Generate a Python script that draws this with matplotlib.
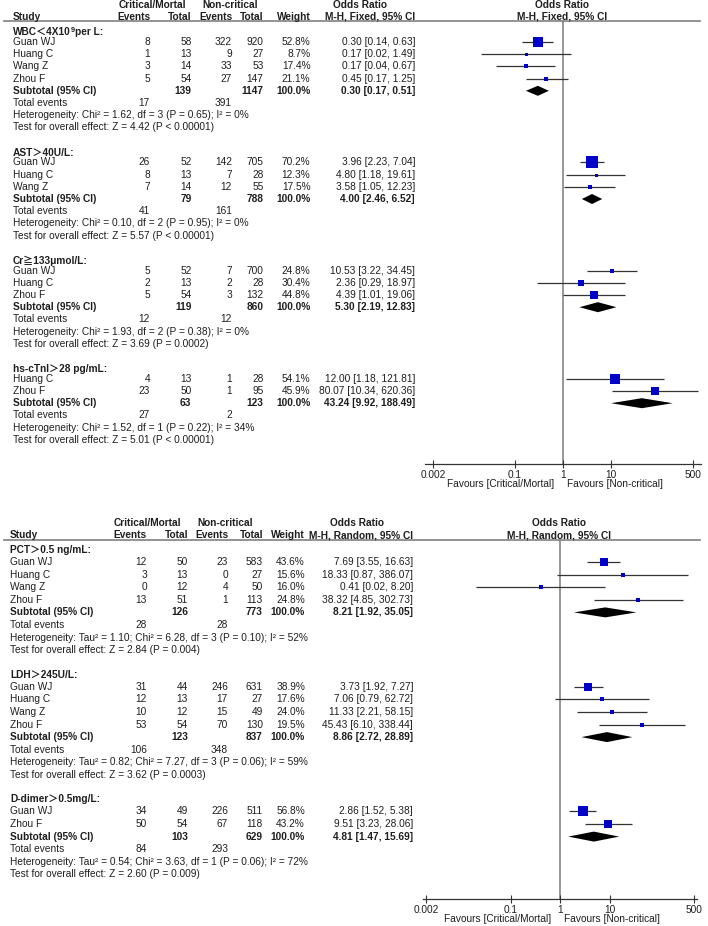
import matplotlib.pyplot as plt
import numpy as np

plt.rcParams['font.family'] = ['Liberation Sans', 'Noto Sans CJK SC', 'DejaVu Sans']
plt.rcParams['font.size'] = 7.25

# ---------------- fixed-effect panel ----------------
wbc_study = ['Guan WJ', 'Huang C', 'Wang Z', 'Zhou F']
wbc_crit = [(8, 58), (1, 13), (3, 14), (5, 54)]
wbc_noncrit = [(322, 920), (9, 27), (33, 53), (27, 147)]
wbc_weight = [52.8, 8.7, 17.4, 21.1]
wbc_or = [(0.30, 0.14, 0.63), (0.17, 0.02, 1.49), (0.17, 0.04, 0.67), (0.45, 0.17, 1.25)]
wbc_sub = (139, 1147, 0.30, 0.17, 0.51)
wbc_events = (17, 391)
wbc_het = 'Heterogeneity: Chi² = 1.62, df = 3 (P = 0.65); I² = 0%'
wbc_test = 'Test for overall effect: Z = 4.42 (P < 0.00001)'

ast_study = ['Guan WJ', 'Huang C', 'Wang Z']
ast_crit = [(26, 52), (8, 13), (7, 14)]
ast_noncrit = [(142, 705), (7, 28), (12, 55)]
ast_weight = [70.2, 12.3, 17.5]
ast_or = [(3.96, 2.23, 7.04), (4.80, 1.18, 19.61), (3.58, 1.05, 12.23)]
ast_sub = (79, 788, 4.00, 2.46, 6.52)
ast_events = (41, 161)
ast_het = 'Heterogeneity: Chi² = 0.10, df = 2 (P = 0.95); I² = 0%'
ast_test = 'Test for overall effect: Z = 5.57 (P < 0.00001)'

cr_study = ['Guan WJ', 'Huang C', 'Zhou F']
cr_crit = [(5, 52), (2, 13), (5, 54)]
cr_noncrit = [(7, 700), (2, 28), (3, 132)]
cr_weight = [24.8, 30.4, 44.8]
cr_or = [(10.53, 3.22, 34.45), (2.36, 0.29, 18.97), (4.39, 1.01, 19.06)]
cr_sub = (119, 860, 5.30, 2.19, 12.83)
cr_events = (12, 12)
cr_het = 'Heterogeneity: Chi² = 1.93, df = 2 (P = 0.38); I² = 0%'
cr_test = 'Test for overall effect: Z = 3.69 (P = 0.0002)'

tni_study = ['Huang C', 'Zhou F']
tni_crit = [(4, 13), (23, 50)]
tni_noncrit = [(1, 28), (1, 95)]
tni_weight = [54.1, 45.9]
tni_or = [(12.00, 1.18, 121.81), (80.07, 10.34, 620.36)]
tni_sub = (63, 123, 43.24, 9.92, 188.49)
tni_events = (27, 2)
tni_het = 'Heterogeneity: Chi² = 1.52, df = 1 (P = 0.22); I² = 34%'
tni_test = 'Test for overall effect: Z = 5.01 (P < 0.00001)'

# ---------------- random-effects panel ----------------
pct_study = ['Guan WJ', 'Huang C', 'Wang Z', 'Zhou F']
pct_crit = [(12, 50), (3, 13), (0, 12), (13, 51)]
pct_noncrit = [(23, 583), (0, 27), (4, 50), (1, 113)]
pct_weight = [43.6, 15.6, 16.0, 24.8]
pct_or = [(7.69, 3.55, 16.63), (18.33, 0.87, 386.07), (0.41, 0.02, 8.20), (38.32, 4.85, 302.73)]
pct_sub = (126, 773, 8.21, 1.92, 35.05)
pct_events = (28, 28)
pct_het = 'Heterogeneity: Tau² = 1.10; Chi² = 6.28, df = 3 (P = 0.10); I² = 52%'
pct_test = 'Test for overall effect: Z = 2.84 (P = 0.004)'

ldh_study = ['Guan WJ', 'Huang C', 'Wang Z', 'Zhou F']
ldh_crit = [(31, 44), (12, 13), (10, 12), (53, 54)]
ldh_noncrit = [(246, 631), (17, 27), (15, 49), (70, 130)]
ldh_weight = [38.9, 17.6, 24.0, 19.5]
ldh_or = [(3.73, 1.92, 7.27), (7.06, 0.79, 62.72), (11.33, 2.21, 58.15), (45.43, 6.10, 338.44)]
ldh_sub = (123, 837, 8.86, 2.72, 28.89)
ldh_events = (106, 348)
ldh_het = 'Heterogeneity: Tau² = 0.82; Chi² = 7.27, df = 3 (P = 0.06); I² = 59%'
ldh_test = 'Test for overall effect: Z = 3.62 (P = 0.0003)'

dd_study = ['Guan WJ', 'Zhou F']
dd_crit = [(34, 49), (50, 54)]
dd_noncrit = [(226, 511), (67, 118)]
dd_weight = [56.8, 43.2]
dd_or = [(2.86, 1.52, 5.38), (9.51, 3.23, 28.06)]
dd_sub = (103, 629, 4.81, 1.47, 15.69)
dd_events = (84, 293)
dd_het = 'Heterogeneity: Tau² = 0.54; Chi² = 3.63, df = 1 (P = 0.06); I² = 72%'
dd_test = 'Test for overall effect: Z = 2.60 (P = 0.009)'

ticks = [0.002, 0.1, 1, 10, 500]
tick_labels = ['0.002', '0.1', '1', '10', '500']

# '^' marks a superscript part in a subgroup title
top_sections = [
    ('WBC＜4X10^9^per L:', wbc_study, wbc_crit, wbc_noncrit, wbc_weight, wbc_or, wbc_sub, wbc_events, wbc_het, wbc_test),
    ('AST＞40U/L:', ast_study, ast_crit, ast_noncrit, ast_weight, ast_or, ast_sub, ast_events, ast_het, ast_test),
    ('Cr≧133μmol/L:', cr_study, cr_crit, cr_noncrit, cr_weight, cr_or, cr_sub, cr_events, cr_het, cr_test),
    ('hs-cTnI＞28 pg/mL:', tni_study, tni_crit, tni_noncrit, tni_weight, tni_or, tni_sub, tni_events, tni_het, tni_test),
]
bottom_sections = [
    ('PCT＞0.5 ng/mL:', pct_study, pct_crit, pct_noncrit, pct_weight, pct_or, pct_sub, pct_events, pct_het, pct_test),
    ('LDH＞245U/L:', ldh_study, ldh_crit, ldh_noncrit, ldh_weight, ldh_or, ldh_sub, ldh_events, ldh_het, ldh_test),
    ('D-dimer＞0.5mg/L:', dd_study, dd_crit, dd_noncrit, dd_weight, dd_or, dd_sub, dd_events, dd_het, dd_test),
]

W, H = 708, 926
fig = plt.figure(figsize=(W / 100, H / 100), dpi=100)
tab = fig.add_axes([0, 0, 1, 1])
tab.set_xlim(0, W)
tab.set_ylim(H, 0)
tab.axis('off')

TXT = '#1e1e1e'
BLUE = '#0000c8'


def title_text(x, y, title):
    if '^' not in title:
        tab.text(x, y, title, ha='left', va='center', weight='bold', color=TXT)
        return
    a, sup, b = title.split('^')
    t1 = tab.text(x, y, a, ha='left', va='center', weight='bold', color=TXT)
    t2 = tab.annotate(sup, xy=(1, 1.05), xycoords=t1, ha='left', va='top',
                      weight='bold', color=TXT, fontsize=5.2)
    tab.annotate(b, xy=(1, 0), xycoords=(t2, t1), ha='left', va='bottom',
                 weight='bold', color=TXT)


def draw_panel(sections, method, y_head, y0, pitch, hgap, sgap, y_axis,
               center, decade, half, xname, cols, mid_crit, mid_non, or_mid, plot_mid):
    c1, c2, c3, c4, cw, cor = cols
    # column headers
    tab.text(mid_crit, y_head, 'Critical/Mortal', ha='center', va='center', weight='bold', color=TXT)
    tab.text(mid_non, y_head, 'Non-critical', ha='center', va='center', weight='bold', color=TXT)
    tab.text(or_mid, y_head, 'Odds Ratio', ha='center', va='center', weight='bold', color=TXT)
    tab.text(plot_mid, y_head, 'Odds Ratio', ha='center', va='center', weight='bold', color=TXT)
    y2 = y_head + 11.5
    tab.text(xname, y2, 'Study', ha='left', va='center', weight='bold', color=TXT)
    for x, s in [(c1, 'Events'), (c2, 'Total'), (c3, 'Events'), (c4, 'Total'), (cw, 'Weight'), (cor, method)]:
        tab.text(x, y2, s, ha='right', va='center', weight='bold', color=TXT)
    tab.text(plot_mid, y2, method, ha='center', va='center', weight='bold', color=TXT)
    y_line = y_head + 16
    tab.plot([4, 700], [y_line, y_line], color='#8a8a8a', lw=1.3)

    # forest axes: y in pixel units, x on log scale
    ax = fig.add_axes([(center - half) / W, 1 - y_axis / H, 2 * half / W, (y_axis - y_line) / H])
    ax.set_xscale('log')
    e = half / decade
    ax.set_xlim(10 ** -e, 10 ** e)
    ax.set_ylim(y_axis, y_line)
    ax.patch.set_alpha(0)
    for s in ['top', 'left', 'right']:
        ax.spines[s].set_visible(False)
    ax.spines['bottom'].set_color('#333333')
    ax.spines['bottom'].set_linewidth(0.9)
    ax.set_yticks([])
    ax.set_xticks(ticks)
    ax.set_xticklabels(tick_labels)
    ax.minorticks_off()
    ax.tick_params(axis='x', direction='inout', length=6, width=0.8, pad=1.5,
                   colors='#333333', labelcolor=TXT, labelsize=7.25)
    ax.axvline(1, color='#7a7a7a', lw=1.1, zorder=1)

    y = y0
    for title, study, crit, non, wt, ors, sub, events, het, test in sections:
        title_text(xname, y, title)
        y += hgap
        for name, (e1, n1), (e2, n2), w, (o, lo, hi) in zip(study, crit, non, wt, ors):
            tab.text(xname, y, name, ha='left', va='center', color=TXT)
            tab.text(c1, y, str(e1), ha='right', va='center', color=TXT)
            tab.text(c2, y, str(n1), ha='right', va='center', color=TXT)
            tab.text(c3, y, str(e2), ha='right', va='center', color=TXT)
            tab.text(c4, y, str(n2), ha='right', va='center', color=TXT)
            tab.text(cw, y, f'{w:.1f}%', ha='right', va='center', color=TXT)
            tab.text(cor, y, f'{o:.2f} [{lo:.2f}, {hi:.2f}]', ha='right', va='center', color=TXT)
            ax.hlines(y, lo, hi, color='#333333', lw=0.9, zorder=2)
            side = max(3.0, 0.165 * w + 0.6) * 0.72
            ax.plot(o, y, marker='s', ms=side, color=BLUE, mec=BLUE, mew=0, zorder=3)
            y += pitch
        n1t, n2t, o, lo, hi = sub
        tab.text(xname, y, 'Subtotal (95% CI)', ha='left', va='center', weight='bold', color=TXT)
        tab.text(c2, y, str(n1t), ha='right', va='center', weight='bold', color=TXT)
        tab.text(c4, y, str(n2t), ha='right', va='center', weight='bold', color=TXT)
        tab.text(cw, y, '100.0%', ha='right', va='center', weight='bold', color=TXT)
        tab.text(cor, y, f'{o:.2f} [{lo:.2f}, {hi:.2f}]', ha='right', va='center', weight='bold', color=TXT)
        ax.fill([lo, o, hi, o], [y, y - 5, y, y + 5], color='black', lw=0, zorder=3)
        y += pitch
        tab.text(xname, y, 'Total events', ha='left', va='center', color=TXT)
        tab.text(c1, y, str(events[0]), ha='right', va='center', color=TXT)
        tab.text(c3, y, str(events[1]), ha='right', va='center', color=TXT)
        y += pitch
        tab.text(xname, y, het, ha='left', va='center', color=TXT)
        y += pitch
        tab.text(xname, y, test, ha='left', va='center', color=TXT)
        y += sgap

    yf = y_axis + 20
    tab.text(center - 9, yf, 'Favours [Critical/Mortal]', ha='right', va='center', color=TXT)
    tab.text(center + 4, yf, 'Favours [Non-critical]', ha='left', va='center', color=TXT)


draw_panel(top_sections, 'M-H, Fixed, 95% CI', y_head=5, y0=32, pitch=12.2, hgap=10, sgap=25,
           y_axis=464, center=563, decade=48.2, half=138, xname=13,
           cols=(150, 191.5, 232, 263.5, 310.5, 415), mid_crit=152, mid_non=230, or_mid=360, plot_mid=562)
draw_panel(bottom_sections, 'M-H, Random, 95% CI', y_head=523.5, y0=550, pitch=12.6, hgap=12, sgap=24.5,
           y_axis=899, center=560, decade=49.5, half=137, xname=10,
           cols=(147, 188, 228, 263, 305, 413), mid_crit=147.5, mid_non=225, or_mid=357, plot_mid=559)

fig.savefig('out.png', dpi=100)
